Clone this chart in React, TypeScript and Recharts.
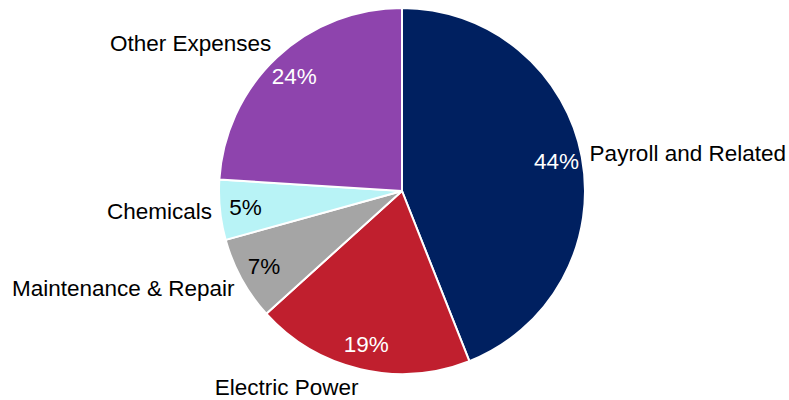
import { PieChart, Pie, Cell } from 'recharts';

const categories = ['Payroll and Related', 'Electric Power', 'Maintenance & Repair', 'Chemicals', 'Other Expenses'];
const shares = [44.0, 19.3, 7.4, 5.3, 24.0];
const sliceColors = ['#002060', '#C01F2E', '#A5A5A5', '#B8F3F6', '#8E44AD'];
const pctColors = ['#ffffff', '#ffffff', '#000000', '#000000', '#ffffff'];

const data = categories.map((name, i) => ({ name, value: shares[i] }));

const RAD = Math.PI / 180;
const FONT = 'Liberation Sans, Arial, sans-serif';

function renderLabel(props: any) {
  const { cx, cy, midAngle, outerRadius, percent, index, name } = props;
  const cos = Math.cos(-midAngle * RAD);
  const sin = Math.sin(-midAngle * RAD);
  // percentage inside the slice, near the rim
  const ri = outerRadius * 0.86;
  const px = cx + ri * cos;
  const py = cy + ri * sin;
  // category name just outside
  const ro = outerRadius + 8;
  const ox = cx + ro * cos;
  const oy = cy + ro * sin + sin * 11;
  return (
    <g>
      <text x={px} y={py} fill={pctColors[index]} textAnchor="middle" dominantBaseline="central" fontSize={22.5} fontFamily={FONT}>
        {`${Math.round(percent * 100)}%`}
      </text>
      <text x={ox} y={oy} fill="#000" textAnchor={cos >= 0 ? 'start' : 'end'} dominantBaseline="central" fontSize={22.5} fontFamily={FONT}>
        {name}
      </text>
    </g>
  );
}

export default function App() {
  return (
    <div style={{ position: 'absolute', left: 0, top: 0, background: '#fff' }}>
      <PieChart width={789} height={400} margin={{ top: 0, right: 0, bottom: 0, left: 0 }}>
        <Pie
          data={data}
          dataKey="value"
          nameKey="name"
          cx={402}
          cy={191}
          outerRadius={183}
          startAngle={90}
          endAngle={-270}
          stroke="#ffffff"
          strokeWidth={2}
          labelLine={false}
          label={renderLabel}
          isAnimationActive={false}
        >
          {data.map((d, i) => (
            <Cell key={d.name} fill={sliceColors[i]} />
          ))}
        </Pie>
      </PieChart>
    </div>
  );
}
